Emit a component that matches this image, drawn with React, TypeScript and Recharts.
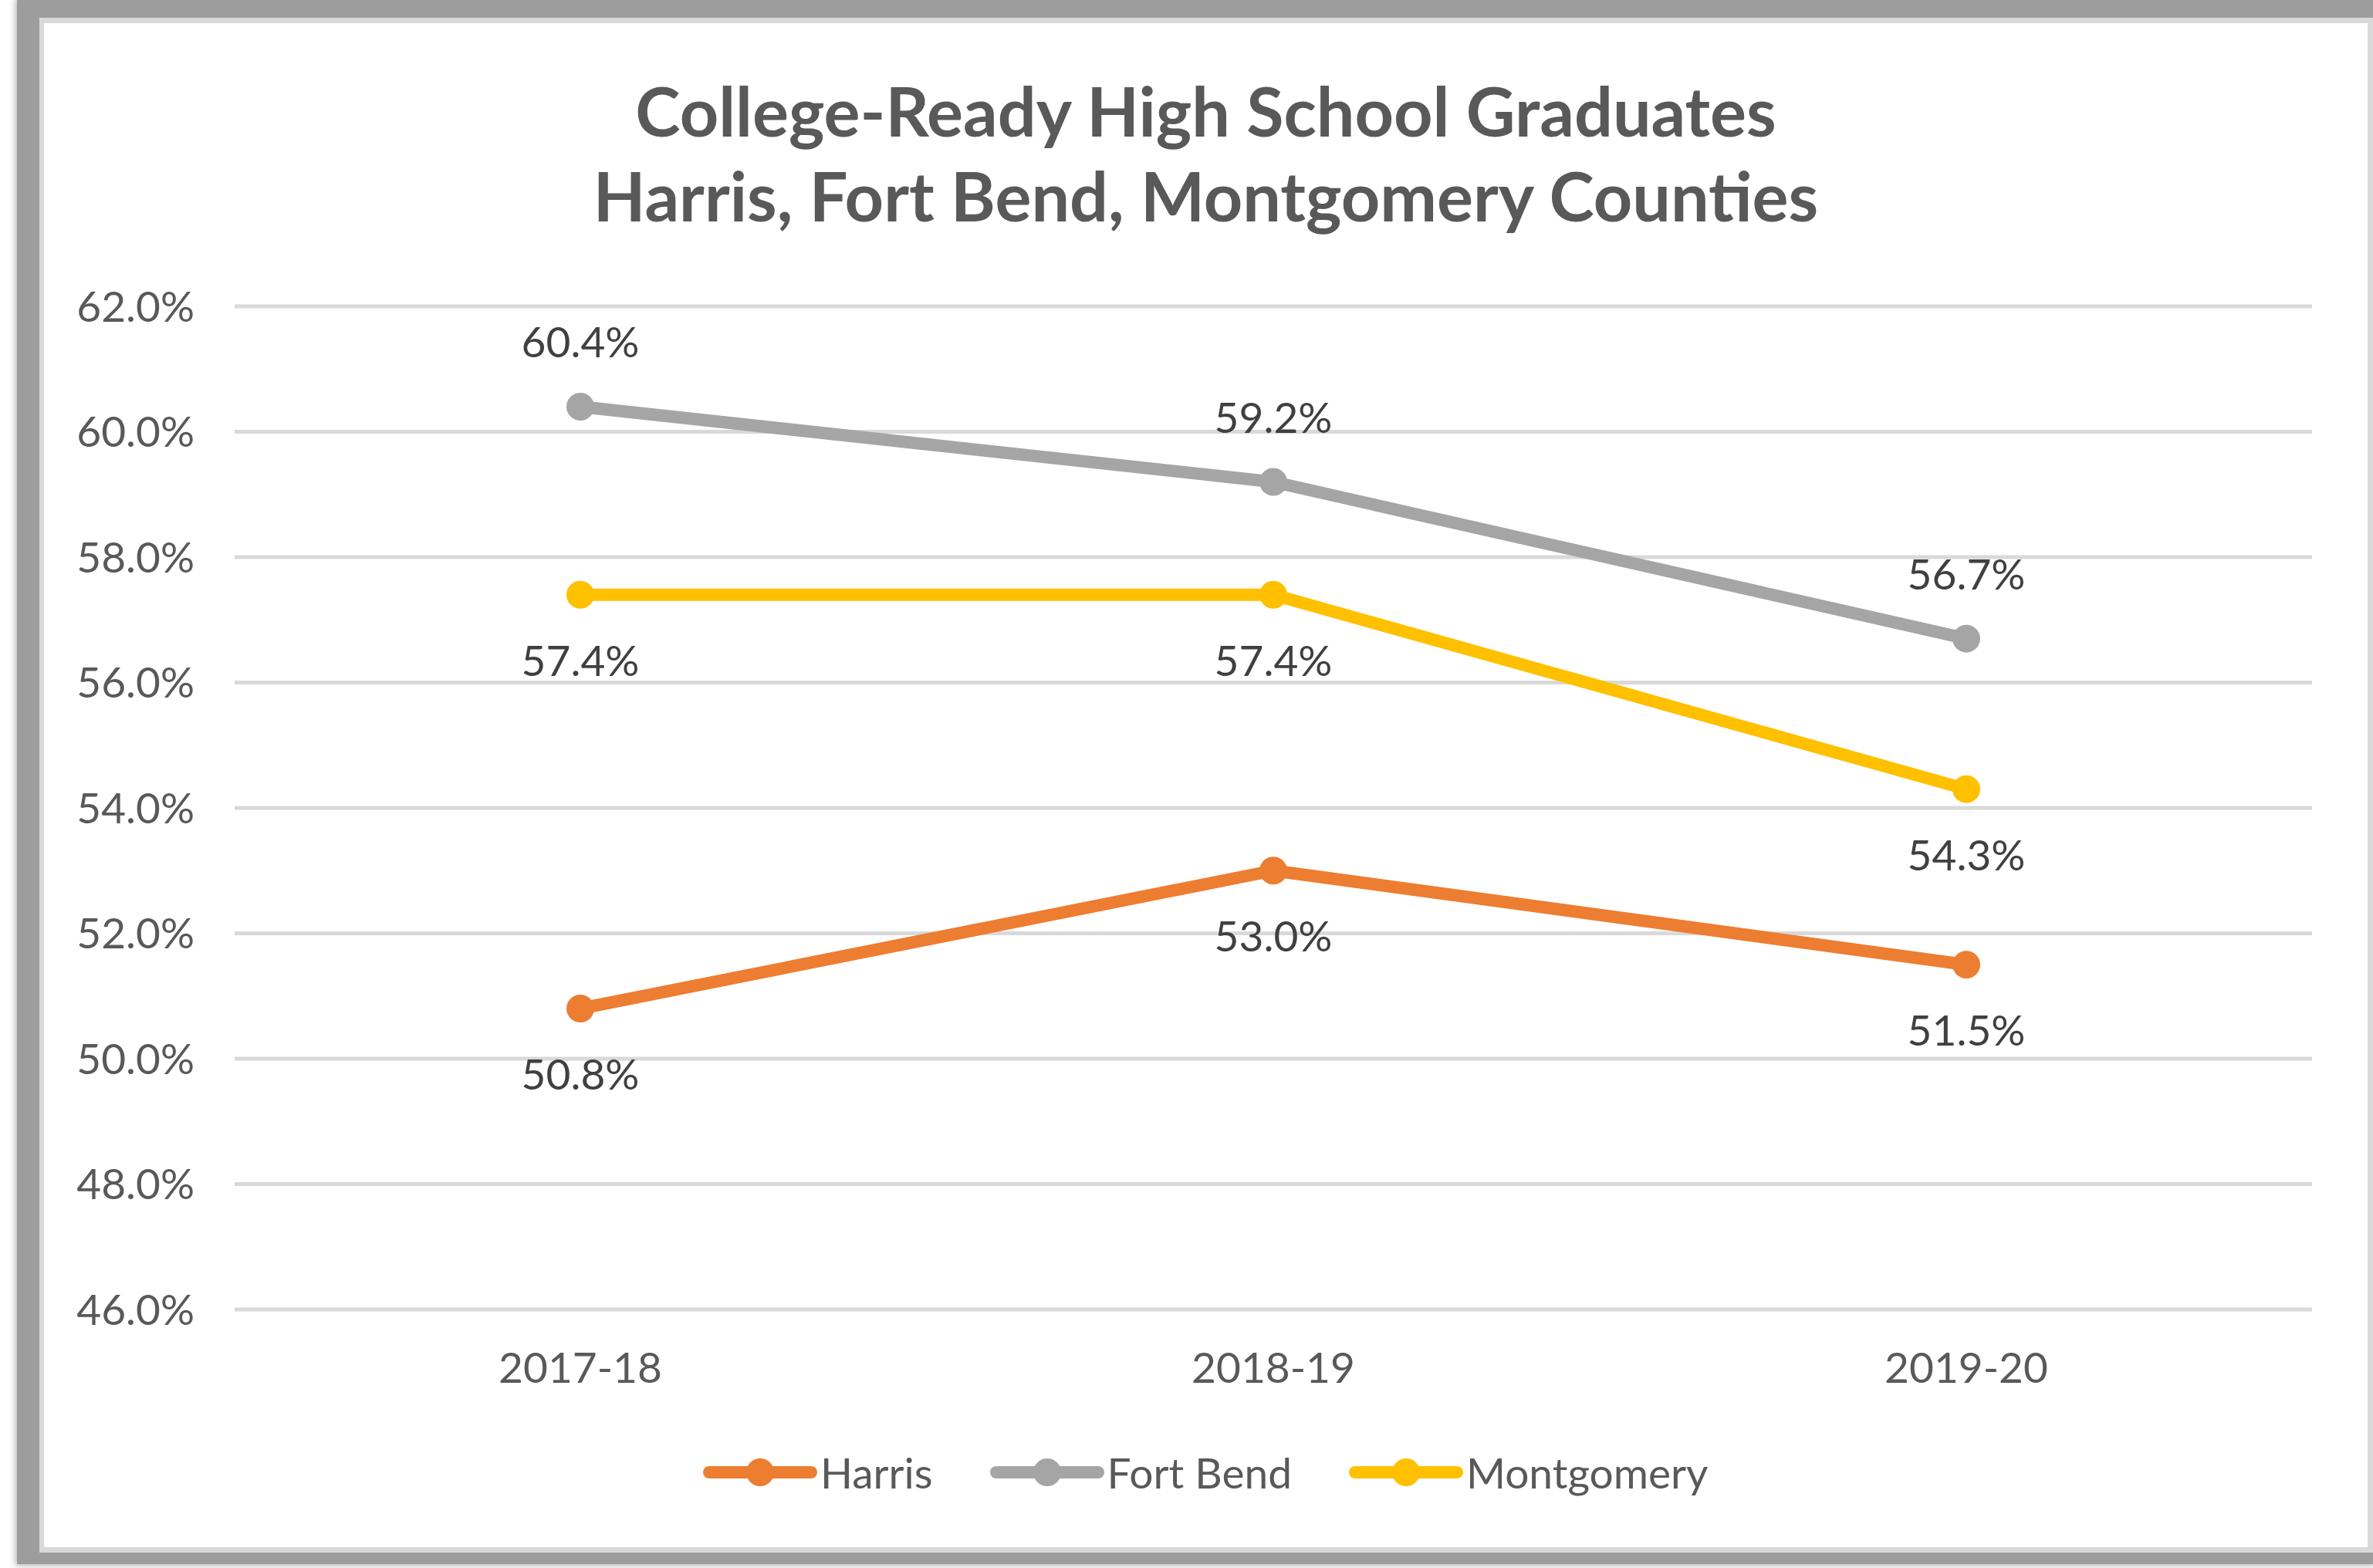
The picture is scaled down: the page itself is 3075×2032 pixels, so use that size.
import React from 'react';
import { LineChart, Line, XAxis, YAxis, CartesianGrid, Legend, LabelList } from 'recharts';

const categories = ['2017-18', '2018-19', '2019-20'];
const harris = [50.8, 53.0, 51.5];
const fortBend = [60.4, 59.2, 56.7];
const montgomery = [57.4, 57.4, 54.3];
const yTicks = [46, 48, 50, 52, 54, 56, 58, 60, 62];
const titleLines = ['College-Ready High School Graduates', 'Harris, Fort Bend, Montgomery Counties'];

const seriesList = [
  { key: 'Harris', color: '#ED7D31', labelPos: 'bottom' as const, offset: 66 },
  { key: 'Fort Bend', color: '#A5A5A5', labelPos: 'top' as const, offset: 64 },
  { key: 'Montgomery', color: '#FFC000', labelPos: 'bottom' as const, offset: 66 },
];

const data = categories.map((c, i) => ({
  year: c,
  Harris: harris[i],
  'Fort Bend': fortBend[i],
  Montgomery: montgomery[i],
}));

const FONT = 'Lato, "Open Sans", sans-serif';
const fmt = (v: number) => `${Number(v).toFixed(1)}%`;

const renderLegend = () => (
  <div style={{ display: 'flex', alignItems: 'center', height: 60 }}>
    {seriesList.map((s) => (
      <div key={s.key} style={{ display: 'flex', alignItems: 'center', marginRight: 74 }}>
        <svg width={148} height={40} style={{ display: 'block' }}>
          <line x1={8} y1={20} x2={140} y2={20} stroke={s.color} strokeWidth={16} strokeLinecap="round" />
          <circle cx={74} cy={20} r={18} fill={s.color} />
        </svg>
        <span
          style={{
            fontFamily: FONT,
            fontSize: 55,
            color: '#595959',
            marginLeft: 4,
            lineHeight: '60px',
            whiteSpace: 'nowrap',
          }}
        >
          {s.key}
        </span>
      </div>
    ))}
  </div>
);

export default function App() {
  return (
    <div style={{ position: 'absolute', left: 0, top: 0, width: 3075, height: 2032, background: '#ffffff', overflow: 'hidden' }}>
      {/* frame */}
      <div style={{ position: 'absolute', left: 22, top: 0, width: 3075 - 22, height: 2027, background: '#9d9d9d', boxShadow: '0 0 8px 2px #b5b5b5' }} />
      <div style={{ position: 'absolute', left: 51, top: 23, width: 3075 - 51, height: 2012 - 23, background: '#d9d9d9' }} />
      <div style={{ position: 'absolute', left: 57, top: 30, width: 3068 - 57, height: 2005 - 30, background: '#ffffff' }} />
      {/* title */}
      <div
        style={{
          position: 'absolute',
          left: 57,
          top: 88,
          width: 3068 - 57,
          textAlign: 'center',
          fontFamily: FONT,
          fontWeight: 700,
          fontSize: 88,
          lineHeight: '110px',
          color: '#595959',
        }}
      >
        {titleLines.map((t) => (
          <div key={t}>{t}</div>
        ))}
      </div>
      <div style={{ position: 'absolute', left: 0, top: 0 }}>
        <LineChart width={3075} height={2032} data={data} margin={{ top: 397, right: 79, bottom: 215, left: 0 }}>
          <CartesianGrid vertical={false} stroke="#D9D9D9" strokeWidth={5} />
          <XAxis
            dataKey="year"
            axisLine={false}
            tickLine={false}
            tickSize={0}
            tickMargin={56}
            padding={{ left: 448, right: 448 }}
            tick={{ fontFamily: FONT, fontSize: 55, fill: '#595959' }}
            height={120}
          />
          <YAxis
            type="number"
            domain={[46, 62]}
            ticks={yTicks}
            interval={0}
            axisLine={false}
            tickLine={false}
            tickSize={0}
            tickMargin={52}
            width={304}
            tickFormatter={fmt}
            tick={{ fontFamily: FONT, fontSize: 55, fill: '#595959' }}
          />
          <Legend
            verticalAlign="middle"
            align="center"
            layout="horizontal"
            content={renderLegend}
            wrapperStyle={{ position: 'absolute', left: 911, top: 1878, width: 1500, height: 60 }}
          />
          {seriesList.map((s) => (
            <Line
              key={s.key}
              type="linear"
              dataKey={s.key}
              stroke={s.color}
              strokeWidth={16}
              strokeLinejoin="round"
              dot={{ r: 18, fill: s.color, stroke: 'none' }}
              activeDot={false}
              isAnimationActive={false}
            >
              <LabelList
                dataKey={s.key}
                position={s.labelPos}
                offset={s.offset}
                formatter={fmt}
                style={{ fontFamily: FONT, fontSize: 55, fill: '#404040' }}
              />
            </Line>
          ))}
        </LineChart>
      </div>
    </div>
  );
}
